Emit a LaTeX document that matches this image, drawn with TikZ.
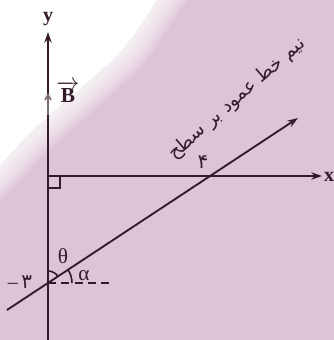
\documentclass[tikz,border=0pt]{standalone}
\usepackage{fontspec}
\setmainfont{Liberation Serif}
\newfontfamily\farsifont[Script=Arabic]{DejaVu Sans}
\TeXXeTstate=1
\usetikzlibrary{arrows.meta,positioning}
\definecolor{bgpink}{RGB}{223,196,216}
\definecolor{plumline}{RGB}{52,26,44}
\definecolor{bgray}{RGB}{125,112,122}

\begin{document}
\begin{tikzpicture}[
  x=0.75pt, y=0.75pt,
  >={Stealth[length=8pt,width=5.5pt]},
  font=\fontsize{15}{17}\selectfont,
  axis/.style={line width=1.4pt, draw=plumline},
  ray/.style={->, line width=1.4pt, draw=plumline},
  bvec/.style={-{Straight Barb[length=4pt,width=4.5pt]}, line width=1.2pt, draw=bgray},
  anglearc/.style={line width=1.2pt, draw=plumline},
  dashline/.style={line width=1.1pt, draw=plumline, dash pattern=on 6pt off 4pt},
  lbl/.style={text=plumline, inner sep=1pt},
  farsi/.style={text=plumline, inner sep=1pt, font=\fontsize{14}{16}\selectfont\farsifont}
]
\useasboundingbox (0,0) rectangle (334,340);
\fill[bgpink] (0,0) rectangle (334,340);
\begin{scope}
  \clip (0,0) rectangle (334,340);
  \fill[white] (-80,420) -- (200,420) -- plot[smooth] coordinates {(185,380) (157,340) (122,290) (67,240) (30,207) (0,175) (-30,145)} -- (-80,145) -- cycle;
  \foreach \d in {2,4,...,18}
    \fill[white, opacity=0.14, shift={(\d,-\d)}] (-80,420) -- (200,420) -- plot[smooth] coordinates {(185,380) (157,340) (122,290) (67,240) (30,207) (0,175) (-30,145)} -- (-80,145) -- cycle;
\end{scope}

\coordinate (O) at (48,164);
\coordinate (ybot) at (48,0);
\coordinate (ytop) at (48,308);
\coordinate (xend) at (322,164);
\coordinate (yint) at (48,57);
\coordinate (xint) at (210,164);
\coordinate (rstart) at (7,30);
\coordinate (rend) at (298,222);
\coordinate (dashend) at (113,57);
\coordinate (btail) at (48,225);
\coordinate (btip) at (48,247);

\draw[axis,->] (ybot) -- (ytop);
\draw[axis,->] (O) -- (xend);
\draw[bvec] (btail) -- (btip);
\draw[axis, line width=1.1pt] (O) rectangle ++(12,-12);
\draw[ray] (rstart) -- (rend);
\draw[dashline] (yint) -- (dashend);
\draw[anglearc] ([shift={(90:12)}]yint) arc[start angle=90, end angle=33.4, radius=12];
\draw[anglearc] ([shift={(0:24)}]yint) arc[start angle=0, end angle=33.4, radius=24];

\node[lbl, font=\fontsize{15}{17}\selectfont\bfseries] (ylab) at (48,321) {y};
\node[lbl, font=\fontsize{15}{17}\selectfont\bfseries] (xlab) at (329,163) {x};
\node[lbl, font=\fontsize{16}{18}\selectfont] (blab) at (68,248) {$\overrightarrow{\textbf{B}}$};
\node[farsi, font=\fontsize{15}{17}\selectfont\farsifont] (four) at (203,178) {۴};
\node[lbl] (mthree) at (20,58) {–\,{\farsifont ۳}};
\node[lbl, font=\fontsize{16}{18}\selectfont] (theta) at (63,84) {θ};
\node[lbl, font=\fontsize{16}{18}\selectfont] (alpha) at (84,64) {α};
\node[farsi, rotate=41] (raylab) at (237,241) {\beginR نیم خط عمود بر سطح\endR};
\end{tikzpicture}
\end{document}
